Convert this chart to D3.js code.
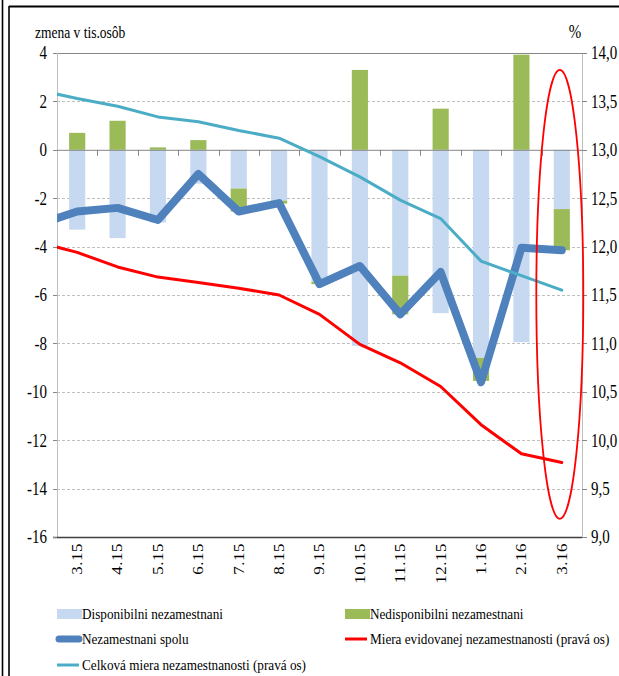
<!DOCTYPE html>
<html>
<head>
<meta charset="utf-8">
<script src="https://cdn.jsdelivr.net/npm/d3@7"></script>
<style>
  body { margin: 0; background: #fff; }
  svg { display: block; }
</style>
</head>
<body>
<svg id="chart" width="619" height="676"></svg>
<script>
// months on the x axis
var categories = ["3.15", "4.15", "5.15", "6.15", "7.15", "8.15", "9.15", "10.15", "11.15", "12.15", "1.16", "2.16", "3.16"];
// lines also carry the previous month (2.15), which falls outside the plot and is clipped
var lineCategories = ["2.15"].concat(categories);

// bars, change in thousands of persons (left axis)
var disponibilni = [-3.3, -3.65, -3.0, -1.4, -1.6, -2.1, -5.45, -8.1, -5.2, -6.75, -8.6, -7.95, -2.45];
var nedisponibilni = [0.7, 1.2, 0.1, 0.4, -0.95, -0.12, -0.1, 3.3, -1.6, 1.7, -0.95, 3.93, -1.7];

// Nezamestnani spolu (left axis)
var spolu = [-3.1, -2.55, -2.4, -2.9, -1.0, -2.55, -2.2, -5.55, -4.8, -6.8, -5.05, -9.6, -4.05, -4.15];
// rates in % (right axis)
var mieraEvidovanej = [12.05, 11.94, 11.79, 11.685, 11.63, 11.57, 11.5, 11.3, 10.99, 10.8, 10.555, 10.16, 9.86, 9.77];
var celkovaMiera = [13.62, 13.53, 13.45, 13.34, 13.29, 13.2, 13.12, 12.93, 12.72, 12.48, 12.29, 11.85, 11.7, 11.55];

var leftTicks = [4, 2, 0, -2, -4, -6, -8, -10, -12, -14, -16];
var rightTicks = [14.0, 13.5, 13.0, 12.5, 12.0, 11.5, 11.0, 10.5, 10.0, 9.5, 9.0];

var legendItems = [
  { name: "Disponibilni nezamestnani", type: "rect", color: "#c6d9f1" },
  { name: "Nedisponibilni nezamestnani", type: "rect", color: "#9bbb59" },
  { name: "Nezamestnani spolu", type: "thick", color: "#4f81bd" },
  { name: "Miera evidovanej nezamestnanosti (pravá os)", type: "line", color: "#ff0000" },
  { name: "Celková miera nezamestnanosti (pravá os)", type: "line", color: "#4bacc6" }
];

var svg = d3.select("#chart")
  .style("font-family", "'Liberation Serif', 'DejaVu Serif', serif");
var plot = { left: 57, right: 582, top: 53, bottom: 537 };

// text helper: the original looks squeezed horizontally, so stretch vertically
function label(parent, x, y, str, size, sy, anchor) {
  return parent.append("text")
    .attr("transform", "translate(" + x + "," + y + ") scale(1," + sy + ")")
    .attr("dy", "0.35em")
    .attr("text-anchor", anchor || "start")
    .attr("font-family", "Liberation Serif")
    .attr("fill", "#000")
    .style("font-size", size + "px")
    .text(str);
}

// frame lines
svg.append("line").attr("x1", 2.5).attr("x2", 2.5).attr("y1", 0).attr("y2", 676).attr("stroke", "#000").attr("stroke-width", 1.6);
svg.append("line").attr("x1", 9).attr("x2", 9).attr("y1", 6).attr("y2", 676).attr("stroke", "#000").attr("stroke-width", 1.6);
svg.append("line").attr("x1", 9).attr("x2", 619).attr("y1", 6.5).attr("y2", 6.5).attr("stroke", "#000").attr("stroke-width", 1.8);

// scales
var x = d3.scaleBand()
  .domain(categories)
  .range([plot.left, plot.right])
  .paddingInner(0.6)
  .paddingOuter(0.3);

var y = d3.scaleLinear().domain([-16, 4]).range([plot.bottom, plot.top]);
var yR = d3.scaleLinear().domain([9, 14]).range([plot.bottom, plot.top]);

// line x positions: index 0 is 2.15, one step left of the first band
function lx(i) {
  return x(categories[0]) + x.bandwidth() / 2 + (i - 1) * x.step();
}

// gridlines
svg.append("g").selectAll("line")
  .data(leftTicks.filter(function (d) { return d !== 0 && d !== -16 && d !== 4; }))
  .enter().append("line")
  .attr("x1", plot.left).attr("x2", plot.right)
  .attr("y1", function (d) { return Math.round(y(d)) + 0.5; })
  .attr("y2", function (d) { return Math.round(y(d)) + 0.5; })
  .attr("stroke", "#bfbfbf")
  .attr("stroke-dasharray", "3,2");

svg.append("line")
  .attr("x1", plot.left).attr("x2", plot.right)
  .attr("y1", y(4) + 0.5).attr("y2", y(4) + 0.5)
  .attr("stroke", "#868686");

// left and right axis lines
svg.append("line")
  .attr("x1", plot.left + 0.5).attr("x2", plot.left + 0.5)
  .attr("y1", plot.top).attr("y2", plot.bottom)
  .attr("stroke", "#bfbfbf");
svg.append("line")
  .attr("x1", plot.right + 0.5).attr("x2", plot.right + 0.5)
  .attr("y1", plot.top).attr("y2", plot.bottom)
  .attr("stroke", "#bfbfbf");

// stacked bars, positives up and negatives down from zero
var rows = categories.map(function (c, i) {
  return { cat: c, disp: disponibilni[i], ned: nedisponibilni[i] };
});
var stack = d3.stack().keys(["disp", "ned"]).offset(d3.stackOffsetDiverging)(rows);
var barColors = { disp: "#c6d9f1", ned: "#9bbb59" };

svg.append("g").selectAll("g")
  .data(stack)
  .enter().append("g")
  .attr("fill", function (s) { return barColors[s.key]; })
  .selectAll("rect")
  .data(function (s) { return s; })
  .enter().append("rect")
  .attr("x", function (d) { return x(d.data.cat); })
  .attr("width", x.bandwidth())
  .attr("y", function (d) { return y(Math.max(d[0], d[1])); })
  .attr("height", function (d) { return Math.abs(y(d[0]) - y(d[1])); });

// zero line with category ticks
svg.append("line")
  .attr("x1", plot.left).attr("x2", plot.right)
  .attr("y1", y(0) + 0.5).attr("y2", y(0) + 0.5)
  .attr("stroke", "#868686");
svg.append("g").selectAll("line")
  .data(categories.slice(1))
  .enter().append("line")
  .attr("x1", function (d) { return Math.round(x(d) - x.step() * 0.3) + 0.5; })
  .attr("x2", function (d) { return Math.round(x(d) - x.step() * 0.3) + 0.5; })
  .attr("y1", y(0)).attr("y2", y(0) + 6)
  .attr("stroke", "#868686");

// bottom axis line
svg.append("line")
  .attr("x1", plot.left - 4).attr("x2", plot.right)
  .attr("y1", plot.bottom + 0.5).attr("y2", plot.bottom + 0.5)
  .attr("stroke", "#404040").attr("stroke-width", 1.5);

// left axis ticks and labels
var leftAxis = svg.append("g");
leftAxis.selectAll("line")
  .data(leftTicks)
  .enter().append("line")
  .attr("x1", plot.left - 4).attr("x2", plot.left)
  .attr("y1", function (d) { return Math.round(y(d)) + 0.5; })
  .attr("y2", function (d) { return Math.round(y(d)) + 0.5; })
  .attr("stroke", "#868686");
leftTicks.forEach(function (d) {
  label(leftAxis, plot.left - 10, y(d), d, 15, 1.2, "end");
});

// right axis ticks and labels
var rightAxis = svg.append("g");
rightAxis.selectAll("line")
  .data(rightTicks)
  .enter().append("line")
  .attr("x1", plot.right).attr("x2", plot.right + 5)
  .attr("y1", function (d) { return Math.round(yR(d)) + 0.5; })
  .attr("y2", function (d) { return Math.round(yR(d)) + 0.5; })
  .attr("stroke", "#868686");
rightTicks.forEach(function (d) {
  label(rightAxis, plot.right + 9, yR(d), d.toFixed(1).replace(".", ","), 15, 1.2, "start");
});

// axis titles
label(svg, 35, 32, "zmena v tis.osôb", 13.5, 1.3, "start");
label(svg, 575, 32, "%", 15, 1.2, "middle");

// x labels, rotated
var xLabels = svg.append("g");
categories.forEach(function (c) {
  xLabels.append("text")
    .attr("transform", "translate(" + (x(c) + x.bandwidth() / 2) + "," + (plot.bottom + 6) + ") scale(1,1.2) rotate(-90)")
    .attr("dy", "0.35em")
    .attr("text-anchor", "end")
    .attr("font-family", "Liberation Serif")
    .attr("fill", "#000")
    .style("font-size", "14px")
    .style("letter-spacing", "0.5px")
    .text(c);
});

// lines, clipped to the plot area
svg.append("clipPath").attr("id", "clip")
  .append("rect")
  .attr("x", plot.left).attr("y", plot.top)
  .attr("width", plot.right - plot.left).attr("height", plot.bottom - plot.top);

var lines = svg.append("g").attr("clip-path", "url(#clip)");

function drawLine(values, scale, color, width) {
  var gen = d3.line()
    .x(function (d, i) { return lx(i); })
    .y(function (d) { return scale(d); });
  lines.append("path")
    .datum(values)
    .attr("fill", "none")
    .attr("stroke", color)
    .attr("stroke-width", width)
    .attr("stroke-linejoin", "round")
    .attr("stroke-linecap", "round")
    .attr("d", gen);
}

drawLine(spolu, y, "#4f81bd", 8);
drawLine(mieraEvidovanej, yR, "#ff0000", 3);
drawLine(celkovaMiera, yR, "#4bacc6", 3);

// red ellipse highlighting the last month
var last = categories[categories.length - 1];
svg.append("ellipse")
  .attr("cx", x(last) + x.bandwidth() / 2 - 2)
  .attr("cy", (y(3.3) + y(-15.25)) / 2)
  .attr("rx", 23.5)
  .attr("ry", (y(-15.25) - y(3.3)) / 2)
  .attr("fill", "none")
  .attr("stroke", "#ff0000")
  .attr("stroke-width", 1.8);

// legend
var legendPos = [
  { x: 57, y: 614 }, { x: 345, y: 614 },
  { x: 57, y: 639 }, { x: 345, y: 639 },
  { x: 57, y: 665 }
];
var legend = svg.append("g");
legendItems.forEach(function (item, i) {
  var p = legendPos[i];
  if (item.type === "rect") {
    legend.append("rect")
      .attr("x", p.x).attr("y", p.y - 5)
      .attr("width", 25).attr("height", 10)
      .attr("fill", item.color);
  } else {
    legend.append("line")
      .attr("x1", p.x + (item.type === "thick" ? 2 : 0)).attr("x2", p.x + 22)
      .attr("y1", p.y).attr("y2", p.y)
      .attr("stroke", item.color)
      .attr("stroke-width", item.type === "thick" ? 7 : 3)
      .attr("stroke-linecap", item.type === "thick" ? "round" : "butt");
  }
  label(legend, p.x + 25, p.y, item.name, 13.2, 1.08, "start");
});
</script>
</body>
</html>
